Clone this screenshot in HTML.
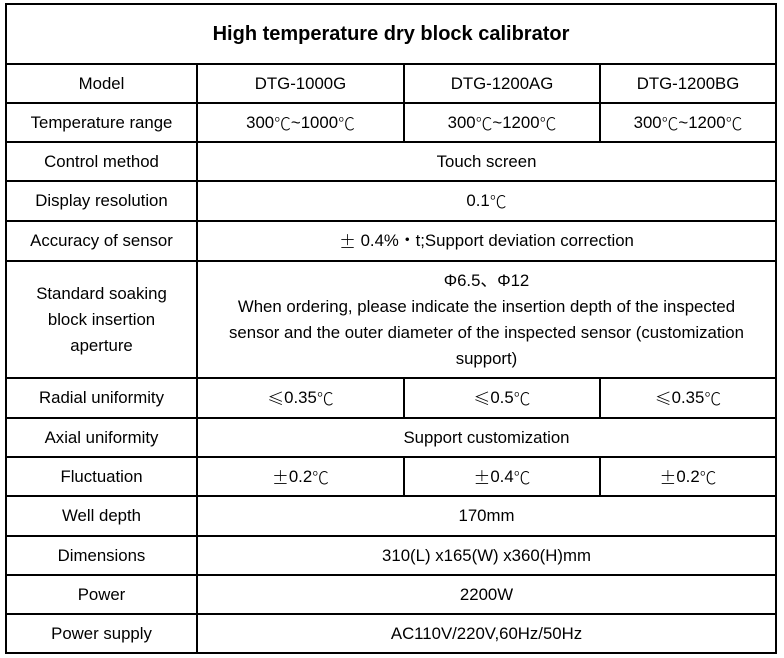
<!DOCTYPE html>
<html><head><meta charset="utf-8"><style>
body{margin:0;background:#fff;width:784px;height:658px;position:relative;overflow:hidden;font-family:"Liberation Sans","Noto Sans CJK SC",sans-serif;color:#000}
.c{position:absolute;box-sizing:border-box;display:flex;align-items:center;justify-content:center;text-align:center;font-size:16.8px;line-height:26px}
.d{font-family:"Noto Sans CJK SC",sans-serif;font-weight:300}
svg{position:absolute;left:0;top:0}
</style></head><body>
<svg width="784" height="658" shape-rendering="crispEdges" stroke="#000" stroke-width="2">
<rect x="6" y="4" width="770" height="649" fill="none"/>
<g>
<line x1="6" x2="776" y1="64" y2="64"/>
<line x1="6" x2="776" y1="103" y2="103"/>
<line x1="6" x2="776" y1="142" y2="142"/>
<line x1="6" x2="776" y1="181" y2="181"/>
<line x1="6" x2="776" y1="221" y2="221"/>
<line x1="6" x2="776" y1="261" y2="261"/>
<line x1="6" x2="776" y1="378" y2="378"/>
<line x1="6" x2="776" y1="418" y2="418"/>
<line x1="6" x2="776" y1="457" y2="457"/>
<line x1="6" x2="776" y1="496" y2="496"/>
<line x1="6" x2="776" y1="536" y2="536"/>
<line x1="6" x2="776" y1="575" y2="575"/>
<line x1="6" x2="776" y1="614" y2="614"/>
<line x1="197" x2="197" y1="64" y2="653"/>
<line x1="404" x2="404" y1="64" y2="142"/>
<line x1="600" x2="600" y1="64" y2="142"/>
<line x1="404" x2="404" y1="378" y2="418"/>
<line x1="600" x2="600" y1="378" y2="418"/>
<line x1="404" x2="404" y1="457" y2="496"/>
<line x1="600" x2="600" y1="457" y2="496"/>
</g></svg>
<div class="c" style="left:6px;top:4px;width:770px;height:60px;font-weight:bold;font-size:20px">High temperature dry block calibrator</div>

<div class="c" style="left:6px;top:64px;width:191px;height:39px">Model</div>
<div class="c" style="left:197px;top:64px;width:207px;height:39px">DTG-1000G</div>
<div class="c" style="left:404px;top:64px;width:196px;height:39px">DTG-1200AG</div>
<div class="c" style="left:600px;top:64px;width:176px;height:39px">DTG-1200BG</div>

<div class="c" style="left:6px;top:103px;width:191px;height:39px">Temperature range</div>
<div class="c" style="left:197px;top:103px;width:207px;height:39px">300<span class="d">℃</span>~1000<span class="d">℃</span></div>
<div class="c" style="left:404px;top:103px;width:196px;height:39px">300<span class="d">℃</span>~1200<span class="d">℃</span></div>
<div class="c" style="left:600px;top:103px;width:176px;height:39px">300<span class="d">℃</span>~1200<span class="d">℃</span></div>

<div class="c" style="left:6px;top:142px;width:191px;height:39px">Control method</div>
<div class="c" style="left:197px;top:142px;width:579px;height:39px">Touch screen</div>

<div class="c" style="left:6px;top:181px;width:191px;height:40px">Display resolution</div>
<div class="c" style="left:197px;top:181px;width:579px;height:40px">0.1<span class="d">℃</span></div>

<div class="c" style="left:6px;top:221px;width:191px;height:40px">Accuracy of sensor</div>
<div class="c" style="left:197px;top:221px;width:579px;height:40px"><span class="d">±</span>&nbsp;0.4%・t;Support deviation correction</div>

<div class="c" style="left:6px;top:261px;width:191px;height:117px;padding:0 20px">Standard soaking block insertion aperture</div>
<div class="c" style="left:197px;top:261px;width:579px;height:117px;padding:0 2px;white-space:nowrap">Φ6.5、Φ12<br>When ordering, please indicate the insertion depth of the inspected<br>sensor and the outer diameter of the inspected sensor (customization<br>support)</div>

<div class="c" style="left:6px;top:378px;width:191px;height:40px">Radial uniformity</div>
<div class="c" style="left:197px;top:378px;width:207px;height:40px"><span class="d">≤</span>0.35<span class="d">℃</span></div>
<div class="c" style="left:404px;top:378px;width:196px;height:40px"><span class="d">≤</span>0.5<span class="d">℃</span></div>
<div class="c" style="left:600px;top:378px;width:176px;height:40px"><span class="d">≤</span>0.35<span class="d">℃</span></div>

<div class="c" style="left:6px;top:418px;width:191px;height:39px">Axial uniformity</div>
<div class="c" style="left:197px;top:418px;width:579px;height:39px">Support customization</div>

<div class="c" style="left:6px;top:457px;width:191px;height:39px">Fluctuation</div>
<div class="c" style="left:197px;top:457px;width:207px;height:39px"><span class="d">±</span>0.2<span class="d">℃</span></div>
<div class="c" style="left:404px;top:457px;width:196px;height:39px"><span class="d">±</span>0.4<span class="d">℃</span></div>
<div class="c" style="left:600px;top:457px;width:176px;height:39px"><span class="d">±</span>0.2<span class="d">℃</span></div>

<div class="c" style="left:6px;top:496px;width:191px;height:40px">Well depth</div>
<div class="c" style="left:197px;top:496px;width:579px;height:40px">170mm</div>

<div class="c" style="left:6px;top:536px;width:191px;height:39px">Dimensions</div>
<div class="c" style="left:197px;top:536px;width:579px;height:39px">310(L) x165(W) x360(H)mm</div>

<div class="c" style="left:6px;top:575px;width:191px;height:39px">Power</div>
<div class="c" style="left:197px;top:575px;width:579px;height:39px">2200W</div>

<div class="c" style="left:6px;top:614px;width:191px;height:39px">Power supply</div>
<div class="c" style="left:197px;top:614px;width:579px;height:39px">AC110V/220V,60Hz/50Hz</div>
</body></html>
